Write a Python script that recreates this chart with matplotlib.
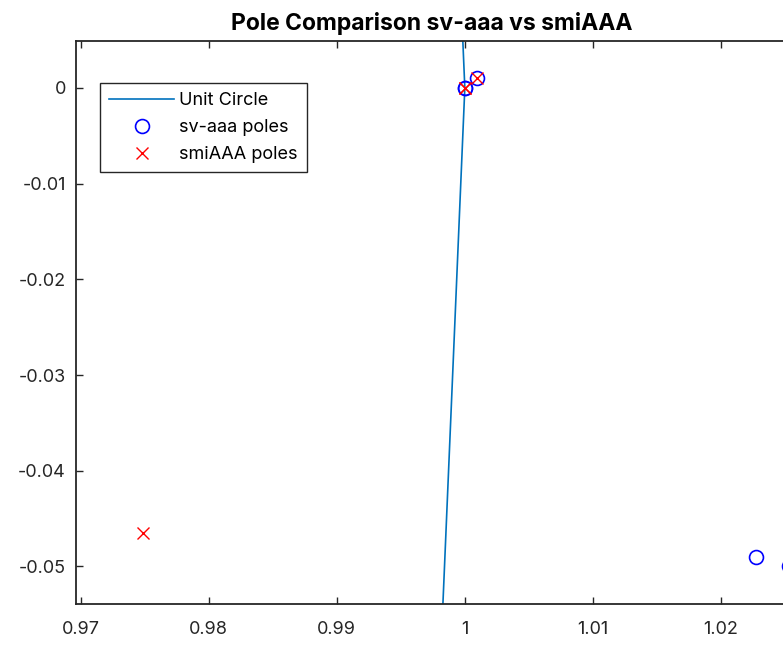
import matplotlib
matplotlib.use("Agg")
import matplotlib.pyplot as plt
import numpy as np
from matplotlib.ticker import FuncFormatter

plt.rcParams['font.family'] = ['Inter', 'DejaVu Sans']
plt.rcParams['axes.unicode_minus'] = False

# pole locations (real, imag)
sv_re = [0.99999, 1.0, 1.00097, 1.02271, 1.02530]
sv_im = [0.0, 0.0, 0.00108, -0.04898, -0.04990]
smi_re = [0.99999, 1.0, 1.00097, 0.97489]
smi_im = [0.0, 0.0, 0.00108, -0.04653]

x_ticks = [0.97, 0.98, 0.99, 1.0, 1.01, 1.02]
y_ticks = [-0.05, -0.04, -0.03, -0.02, -0.01, 0.0]

# coarse unit circle, 100 points
theta = np.linspace(0, 2 * np.pi, 100)

fig = plt.figure(figsize=(7.83, 6.45), dpi=100)
ax = fig.add_axes([0.0967, 0.0636, 0.910, 0.8729])

ax.plot(np.cos(theta), np.sin(theta), color='#0072BD', lw=1.2, label='Unit Circle')
ax.plot(sv_re, sv_im, 'o', color='blue', mfc='none', ms=10, mew=1.2, label='sv-aaa poles')
ax.plot(smi_re, smi_im, 'x', color='red', ms=9, mew=1.0, label='smiAAA poles')

ax.set_xlim(0.96961, 1.02526)
ax.set_ylim(-0.05392, 0.00491)
ax.set_xticks(x_ticks)
ax.set_yticks(y_ticks)
ax.xaxis.set_major_formatter(FuncFormatter(lambda v, p: '%g' % round(v, 4)))
ax.yaxis.set_major_formatter(FuncFormatter(lambda v, p: '%g' % round(v, 4)))

axcol = '#262626'
for s in ax.spines.values():
    s.set_color(axcol)
    s.set_linewidth(1.3)
ax.tick_params(direction='in', length=5, width=1.0, colors=axcol, labelsize=13,
               top=True, right=False)
ax.tick_params(axis='x', pad=12)
ax.tick_params(axis='y', pad=7)

ax.set_title('Pole Comparison sv-aaa vs smiAAA', fontsize=16.5, fontweight='bold', pad=8)

leg = ax.legend(loc='upper left', bbox_to_anchor=(0.0341, 0.9254), borderaxespad=0,
                fontsize=13, fancybox=False, framealpha=1, edgecolor=axcol,
                handlelength=3.6, handletextpad=0.3, borderpad=0.5, labelspacing=0.55)
leg.get_frame().set_linewidth(1.0)

fig.savefig('out.png', dpi=100)
